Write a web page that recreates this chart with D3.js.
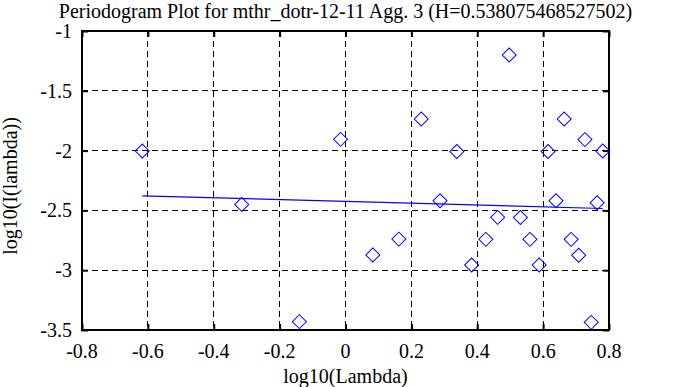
<!DOCTYPE html>
<html lang="en">
  <head>
    <meta charset="UTF-8" />
    <title>Periodogram Plot</title>
    <script src="https://d3js.org/d3.v7.min.js"></script>
    <style>
      body {
        margin: 0;
        background: #fff;
      }
      svg text {
        font-family: "Liberation Serif", "Times New Roman", serif;
        font-size: 20px;
        fill: #000;
      }
    </style>
  </head>
  <body>
    <div id="chart"></div>
    <script>
      // log10(lambda) and log10(I(lambda))
      const logLambda = [
        -0.617, -0.315, -0.14, -0.015, 0.083, 0.162, 0.23, 0.287, 0.338, 0.383, 0.426, 0.462, 0.497,
        0.531, 0.56, 0.588, 0.615, 0.639, 0.664, 0.685, 0.708, 0.727, 0.746, 0.764, 0.781
      ]
      const logI = [
        -2.003, -2.45, -3.43, -1.906, -2.873, -2.74, -1.736, -2.42, -2.008, -2.956, -2.742, -2.558, -1.2,
        -2.56, -2.742, -2.957, -2.008, -2.42, -1.736, -2.742, -2.875, -1.908, -3.436, -2.436, -2.003
      ]
      // fitted line end points
      const fitX = [-0.617, 0.781]
      const fitY = [-2.378, -2.484]

      const xTicks = [-0.8, -0.6, -0.4, -0.2, 0, 0.2, 0.4, 0.6, 0.8]
      const yTicks = [-1, -1.5, -2, -2.5, -3, -3.5]
      const title = "Periodogram Plot for mthr_dotr-12-11 Agg. 3 (H=0.538075468527502)"

      const W = 678,
        H = 387
      const pLeft = 82,
        pRight = 609,
        pTop = 31,
        pBottom = 330

      const svg = d3.select("#chart").append("svg").attr("width", W).attr("height", H)

      const x = d3.scaleLinear().domain([-0.8, 0.8]).range([pLeft, pRight])
      const y = d3.scaleLinear().domain([-3.5, -1]).range([pBottom, pTop])

      // grid
      svg
        .append("g")
        .selectAll("line")
        .data(xTicks.slice(1, -1))
        .join("line")
        .attr("x1", d => x(d))
        .attr("x2", d => x(d))
        .attr("y1", pTop)
        .attr("y2", pBottom)
        .attr("stroke", "#000")
        .attr("stroke-dasharray", "6,4")
        .attr("shape-rendering", "crispEdges")

      svg
        .append("g")
        .selectAll("line")
        .data(yTicks.slice(1, -1))
        .join("line")
        .attr("x1", pLeft)
        .attr("x2", pRight)
        .attr("y1", d => y(d))
        .attr("y2", d => y(d))
        .attr("stroke", "#000")
        .attr("stroke-dasharray", "6,4")
        .attr("shape-rendering", "crispEdges")

      // axes with inward ticks, mirrored on the opposite side
      const tickLen = 6
      svg
        .append("g")
        .attr("transform", `translate(0,${pBottom})`)
        .call(d3.axisTop(x).tickValues(xTicks).tickSize(tickLen).tickFormat(""))
      svg
        .append("g")
        .attr("transform", `translate(0,${pTop})`)
        .call(d3.axisBottom(x).tickValues(xTicks).tickSize(tickLen).tickFormat(""))
      svg
        .append("g")
        .attr("transform", `translate(${pLeft},0)`)
        .call(d3.axisRight(y).tickValues(yTicks).tickSize(tickLen).tickFormat(""))
      svg
        .append("g")
        .attr("transform", `translate(${pRight},0)`)
        .call(d3.axisLeft(y).tickValues(yTicks).tickSize(tickLen).tickFormat(""))

      svg.selectAll(".domain").remove()
      svg.selectAll(".tick line").attr("stroke", "#000").attr("stroke-width", 2)

      // frame
      svg
        .append("rect")
        .attr("x", pLeft)
        .attr("y", pTop)
        .attr("width", pRight - pLeft)
        .attr("height", pBottom - pTop)
        .attr("fill", "none")
        .attr("stroke", "#000")
        .attr("stroke-width", 2)

      // tick labels
      svg
        .append("g")
        .selectAll("text")
        .data(xTicks)
        .join("text")
        .attr("x", d => x(d))
        .attr("y", 358)
        .attr("text-anchor", "middle")
        .text(d => d)

      svg
        .append("g")
        .selectAll("text")
        .data(yTicks)
        .join("text")
        .attr("x", 72)
        .attr("y", d => y(d) + 7)
        .attr("text-anchor", "end")
        .text(d => d)

      // titles
      svg
        .append("text")
        .attr("x", (pLeft + pRight) / 2)
        .attr("y", 18)
        .attr("text-anchor", "middle")
        .text(title)

      svg
        .append("text")
        .attr("x", (pLeft + pRight) / 2)
        .attr("y", 383)
        .attr("text-anchor", "middle")
        .text("log10(Lambda)")

      svg
        .append("text")
        .attr("transform", `translate(17,186) rotate(-90)`)
        .attr("text-anchor", "middle")
        .text("log10(I(lambda))")

      // fitted line
      svg
        .append("line")
        .attr("x1", x(fitX[0]))
        .attr("y1", y(fitY[0]))
        .attr("x2", x(fitX[1]))
        .attr("y2", y(fitY[1]))
        .attr("stroke", "#0000ff")
        .attr("stroke-width", 1.2)

      // points as open diamonds
      const diamond = d3.symbol(d3.symbolSquare, 98)
      svg
        .append("g")
        .selectAll("path")
        .data(logLambda.map((d, i) => [d, logI[i]]))
        .join("path")
        .attr("d", diamond)
        .attr("transform", d => `translate(${x(d[0])},${y(d[1])}) rotate(45)`)
        .attr("fill", "none")
        .attr("stroke", "#0000ff")
        .attr("stroke-width", 1)
    </script>
  </body>
</html>
